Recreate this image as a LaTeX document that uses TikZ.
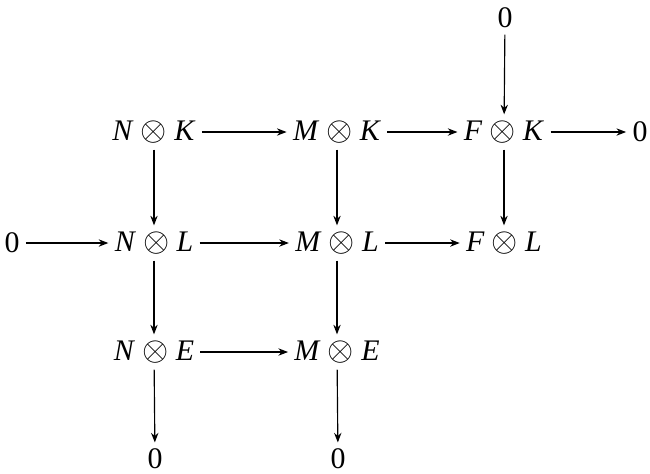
\documentclass[tikz,border=0pt]{standalone}
\usepackage{fontspec}
\setmainfont{Liberation Serif}
\usepackage{tikz}
\usetikzlibrary{arrows.meta, positioning}
\newcommand{\tens}[2]{\textit{#1}\hspace{0.24em}\scalebox{1.22}{$\otimes$}\hspace{0.24em}\textit{#2}}

\begin{document}
\begin{tikzpicture}[x=0.435pt, y=-0.435pt,
    obj/.style={inner sep=0pt, outer sep=2.8pt, font=\fontsize{13}{15}\selectfont},
    line/.style={draw, -{Stealth[length=4.2pt, width=3.2pt]}, line width=0.5pt}]
    \useasboundingbox (0,0) rectangle (650,473);

    \node [obj] (ztop) at (505,18) {0};
    \node [obj] (nk) at (154,132) {\tens{N}{K}};
    \node [obj] (mk) at (337,132) {\tens{M}{K}};
    \node [obj] (fk) at (504,132) {\tens{F}{K}};
    \node [obj] (zk) at (640,132) {0};
    \node [obj] (zl) at (12,243) {0};
    \node [obj] (nl) at (154,243) {\tens{N}{L}};
    \node [obj] (ml) at (337,243) {\tens{M}{L}};
    \node [obj] (fl) at (504,243) {\tens{F}{L}};
    \node [obj] (ne) at (154,352) {\tens{N}{E}};
    \node [obj] (me) at (337,352) {\tens{M}{E}};
    \node [obj] (zne) at (155,459) {0};
    \node [obj] (zme) at (338,459) {0};

    \path [line] (nk) -- (mk);
    \path [line] (mk) -- (fk);
    \path [line] (fk) -- (zk);
    \path [line] (zl) -- (nl);
    \path [line] (nl) -- (ml);
    \path [line] (ml) -- (fl);
    \path [line] (ne) -- (me);
    \path [line] (ztop) -- (fk);
    \path [line] (nk) -- (nl);
    \path [line] (mk) -- (ml);
    \path [line] (fk) -- (fl);
    \path [line] (nl) -- (ne);
    \path [line] (ml) -- (me);
    \path [line] (ne) -- (zne);
    \path [line] (me) -- (zme);
\end{tikzpicture}
\end{document}
